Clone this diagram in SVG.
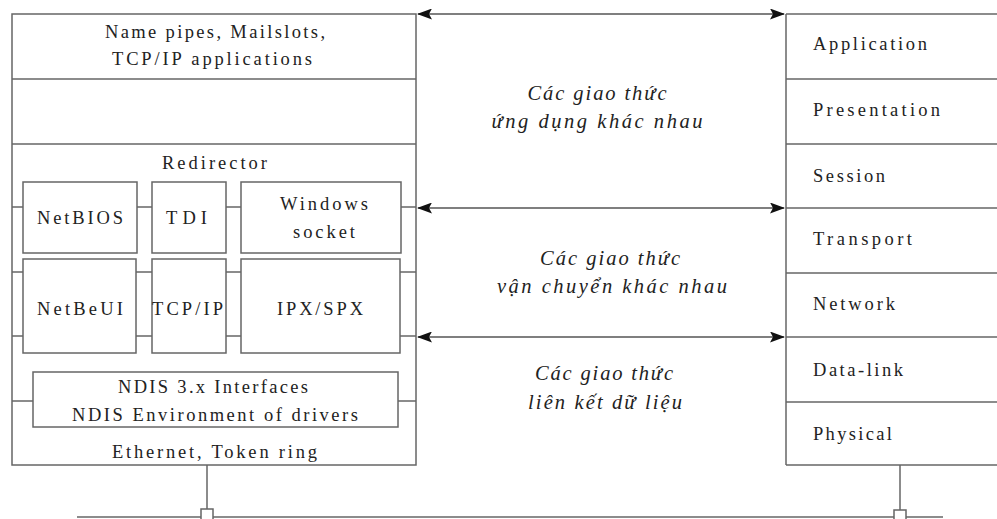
<svg xmlns="http://www.w3.org/2000/svg" width="997" height="519" viewBox="0 0 997 519">
<style>
.box{fill:#fff;stroke:#666;stroke-width:1.5}
.ln{stroke:#666;stroke-width:1.5;fill:none}
.t{font-family:"Liberation Serif","DejaVu Serif",serif;font-size:18.5px;fill:#222}
.i{font-family:"Liberation Serif","DejaVu Serif",serif;font-size:20.5px;font-style:italic;fill:#222;text-anchor:middle}
.arr{stroke:#555;stroke-width:1.5;fill:none;marker-start:url(#ah);marker-end:url(#ah)}
</style>
<defs>
<marker id="ah" viewBox="0 0 15 11" refX="14" refY="5.5" markerWidth="15" markerHeight="11" markerUnits="userSpaceOnUse" orient="auto-start-reverse">
<path d="M0,0 L15,5.5 L0,11 L3,5.5 Z" fill="#111"/>
</marker>
</defs>
<rect width="997" height="519" fill="#fff"/>

<g id="left-stack">
<rect class="box" x="12" y="14" width="404" height="451"/>
<line class="ln" x1="12" y1="79" x2="416" y2="79"/>
<line class="ln" x1="12" y1="144" x2="416" y2="144"/>
<text class="t" x="105" y="38" textLength="220" lengthAdjust="spacing">Name pipes, Mailslots,</text>
<text class="t" x="112" y="65" textLength="200" lengthAdjust="spacing">TCP/IP applications</text>
<text class="t" x="162" y="169" textLength="105" lengthAdjust="spacing">Redirector</text>
<text class="t" x="112" y="458" textLength="205" lengthAdjust="spacing">Ethernet, Token ring</text>
</g>

<g id="netbios"><rect class="box" x="23" y="182" width="114" height="71"/><text class="t" x="37" y="224" textLength="86" lengthAdjust="spacing">NetBIOS</text></g>
<g id="tdi"><rect class="box" x="152" y="182" width="74" height="71"/><text class="t" x="166" y="224" textLength="41" lengthAdjust="spacing">TDI</text></g>
<g id="winsock"><rect class="box" x="241" y="182" width="160" height="71"/><text class="t" x="280" y="210" textLength="88" lengthAdjust="spacing">Windows</text><text class="t" x="293" y="238" textLength="62" lengthAdjust="spacing">socket</text></g>
<g id="netbeui"><rect class="box" x="23" y="259" width="113" height="94"/><text class="t" x="37" y="315" textLength="86" lengthAdjust="spacing">NetBeUI</text></g>
<g id="tcpip"><rect class="box" x="152" y="259" width="74" height="94"/><text class="t" x="152" y="315" textLength="71" lengthAdjust="spacing">TCP/IP</text></g>
<g id="ipxspx"><rect class="box" x="241" y="259" width="159" height="94"/><text class="t" x="277" y="315" textLength="86" lengthAdjust="spacing">IPX/SPX</text></g>
<g id="ndis"><rect class="box" x="33" y="372" width="365" height="55"/><text class="t" x="118" y="393" textLength="190" lengthAdjust="spacing">NDIS 3.x Interfaces</text><text class="t" x="72" y="421" textLength="286" lengthAdjust="spacing">NDIS Environment of drivers</text></g>

<g id="osi">
<line class="ln" x1="786" y1="14" x2="786" y2="465"/>
<line class="ln" x1="786" y1="14" x2="997" y2="14"/>
<line class="ln" x1="786" y1="79" x2="997" y2="79"/>
<line class="ln" x1="786" y1="144" x2="997" y2="144"/>
<line class="ln" x1="786" y1="208" x2="997" y2="208"/>
<line class="ln" x1="786" y1="273" x2="997" y2="273"/>
<line class="ln" x1="786" y1="337" x2="997" y2="337"/>
<line class="ln" x1="786" y1="402" x2="997" y2="402"/>
<line class="ln" x1="786" y1="465" x2="997" y2="465"/>
<text class="t" x="813" y="50" textLength="114" lengthAdjust="spacing">Application</text>
<text class="t" x="813" y="116" textLength="127" lengthAdjust="spacing">Presentation</text>
<text class="t" x="813" y="182" textLength="72" lengthAdjust="spacing">Session</text>
<text class="t" x="813" y="245" textLength="99" lengthAdjust="spacing">Transport</text>
<text class="t" x="813" y="310" textLength="82" lengthAdjust="spacing">Network</text>
<text class="t" x="813" y="376" textLength="90" lengthAdjust="spacing">Data-link</text>
<text class="t" x="813" y="440" textLength="79" lengthAdjust="spacing">Physical</text>
</g>

<g id="connectors">
<line class="ln" x1="12" y1="207" x2="23" y2="207"/>
<line class="ln" x1="137" y1="207" x2="152" y2="207"/>
<line class="ln" x1="226" y1="207" x2="241" y2="207"/>
<line class="ln" x1="401" y1="207" x2="416" y2="207"/>
<line class="ln" x1="12" y1="272" x2="23" y2="272"/>
<line class="ln" x1="136" y1="272" x2="152" y2="272"/>
<line class="ln" x1="226" y1="272" x2="241" y2="272"/>
<line class="ln" x1="400" y1="272" x2="416" y2="272"/>
<line class="ln" x1="12" y1="336" x2="23" y2="336"/>
<line class="ln" x1="136" y1="336" x2="152" y2="336"/>
<line class="ln" x1="226" y1="336" x2="241" y2="336"/>
<line class="ln" x1="400" y1="336" x2="416" y2="336"/>
<line class="ln" x1="12" y1="401" x2="33" y2="401"/>
<line class="ln" x1="398" y1="401" x2="416" y2="401"/>
<line class="arr" x1="418" y1="14" x2="784" y2="14"/>
<line class="arr" x1="418" y1="208" x2="784" y2="208"/>
<line class="arr" x1="418" y1="337" x2="784" y2="337"/>
<line class="ln" x1="77" y1="517" x2="943" y2="517"/>
<line class="ln" x1="207" y1="465" x2="207" y2="509"/>
<line class="ln" x1="900" y1="465" x2="900" y2="510"/>
<rect class="box" x="201" y="509" width="12" height="12"/>
<rect class="box" x="894" y="510" width="12" height="12"/>
</g>

<g id="labels">
<text class="i" x="597" y="100" textLength="139" lengthAdjust="spacing">Các giao thức</text>
<text class="i" x="597" y="128" textLength="211" lengthAdjust="spacing">ứng dụng khác nhau</text>
<text class="i" x="610" y="265" textLength="140" lengthAdjust="spacing">Các giao thức</text>
<text class="i" x="612" y="293" textLength="230" lengthAdjust="spacing">vận chuyển khác nhau</text>
<text class="i" x="604" y="380" textLength="138" lengthAdjust="spacing">Các giao thức</text>
<text class="i" x="605" y="409" textLength="154" lengthAdjust="spacing">liên kết dữ liệu</text>
</g>
</svg>
